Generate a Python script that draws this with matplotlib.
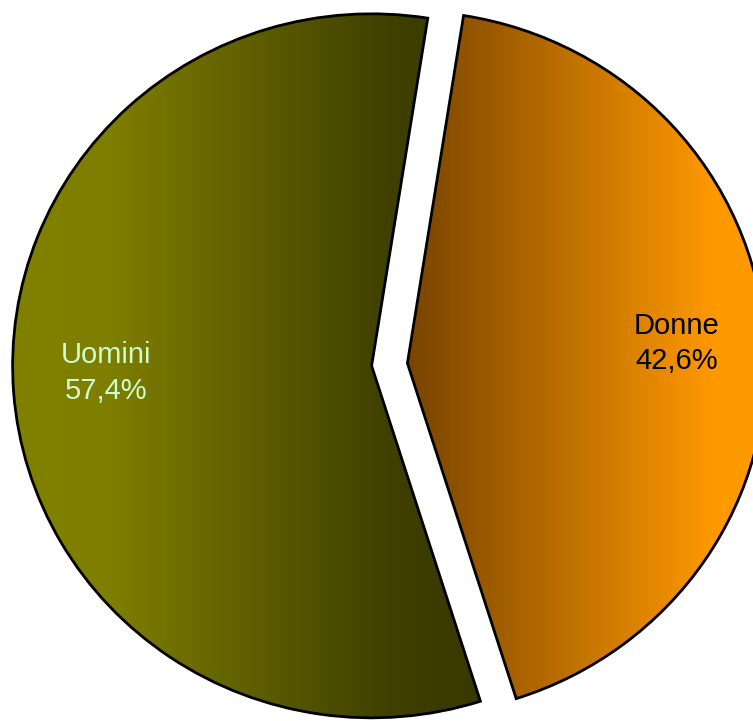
import numpy as np
import matplotlib
import matplotlib.pyplot as plt
from matplotlib.colors import LinearSegmentedColormap

matplotlib.use('Agg')

# Data
labels = ['Donne', 'Uomini']
shares = [42.6, 57.4]
text_colors = ['black', '#ccffcc']
# gradient stops (position across the slice, colour), left -> right
grad_stops = [
    [(0.0, '#784400'), (0.86, '#ff9900'), (1.0, '#ff9900')],
    [(0.0, '#808000'), (0.21, '#7e7e00'), (0.80, '#404000'), (1.0, '#383800')],
]

fig = plt.figure(figsize=(7.53, 7.21), dpi=100)
ax = fig.add_axes([0, 0, 1, 1])

wedges, _ = ax.pie(shares, startangle=81, counterclock=False,
                   explode=[0.05, 0.05], radius=1.0,
                   wedgeprops=dict(facecolor='none', edgecolor='black', linewidth=2))

grad = np.linspace(0, 1, 256).reshape(1, -1)
for w, stops in zip(wedges, grad_stops):
    ext = w.get_path().get_extents()
    cmap = LinearSegmentedColormap.from_list('g', stops)
    im = ax.imshow(grad, cmap=cmap, aspect='auto', zorder=0,
                   extent=[ext.x0, ext.x1, ext.y0, ext.y1])
    im.set_clip_path(w)

# labels
label_pos = [(0.80, 0.06), (-0.79, -0.024)]
for name, val, col, (x, y) in zip(labels, shares, text_colors, label_pos):
    txt = f"{name}\n{val:.1f}%".replace('.', ',')
    ax.text(x, y, txt, ha='center', va='center', color=col,
            fontsize=21, family='Liberation Sans', linespacing=1.35)

# slightly wider than tall, like the original
ax.set_aspect('auto')
ax.set_xlim(-1.085, 1.0125)
ax.set_ylim(-1.0128, 1.0355)
ax.axis('off')

fig.savefig('out.png', dpi=100)
